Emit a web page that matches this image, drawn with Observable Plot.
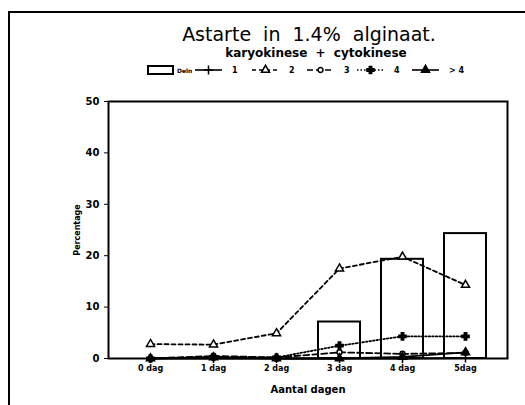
<!DOCTYPE html>
<html><head><meta charset="utf-8">
<script src="https://cdn.jsdelivr.net/npm/d3@7"></script>
<script src="https://cdn.jsdelivr.net/npm/@observablehq/plot@0.6"></script>
<style>
body{margin:0;background:#fff;width:525px;height:405px;overflow:hidden;position:relative;font-family:"DejaVu Sans",sans-serif;}
#frame{position:absolute;left:8px;top:11px;width:560px;height:440px;border:2px solid #000;box-sizing:border-box;z-index:5;pointer-events:none;}
#title{position:absolute;left:0;width:618px;top:23px;text-align:center;font-size:19px;word-spacing:6px;}
#sub{position:absolute;left:0;width:632px;top:46px;text-align:center;font-size:12px;font-weight:bold;word-spacing:4px;}
#legend{position:absolute;left:0;top:62px;}
#chart{position:absolute;left:0;top:80px;}
</style></head><body>
<div id="frame"></div>
<div id="title">Astarte in 1.4% alginaat.</div>
<div id="sub">karyokinese + cytokinese</div>
<div id="legend"></div>
<div id="chart"></div>
<script>
const days = ["0 dag","1 dag","2 dag","3 dag","4 dag","5dag"];
const deln = [0, 0, 0, 7.1, 19.3, 24.3];
const s1 = [0, 0, 0, 0, 0, 0.1];
const s2 = [2.8, 2.7, 4.9, 17.5, 19.8, 14.3];
const s3 = [0, 0.5, 0.2, 1.2, 0.9, 1.1];
const s4 = [0, 0.3, 0.2, 2.5, 4.3, 4.3];
const s5 = [0, 0.2, 0, 0, 0.3, 1.2];
const seriesNames = ["1","2","3","4","> 4"];
const yTicks = [0,10,20,30,40,50];

const styles = [
  {dash:null, symbol:"plus", fill:"none", r:3},
  {dash:"4,3", symbol:"triangle", fill:"white", r:3},
  {dash:"6,3", symbol:"circle", fill:"white", r:2.5},
  {dash:"1.5,2", symbol:"cross", fill:"black", r:3},
  {dash:null, symbol:"triangle", fill:"black", r:3}
];
const seriesVals = [s1,s2,s3,s4,s5];
const barData = days.map((d,i)=>({day:d, v:deln[i]}));

const marks = [
  Plot.barY(barData, {x:"day", y:"v", fill:"white", stroke:"black", strokeWidth:2})
];
seriesVals.forEach((vals, k) => {
  const data = days.map((d,i)=>({day:d, v:vals[i]}));
  const st = styles[k];
  marks.push(Plot.line(data, {x:"day", y:"v", stroke:"black", strokeWidth:1.8, strokeDasharray:st.dash}));
  marks.push(Plot.dot(data, {x:"day", y:"v", symbol:()=>st.symbol, r:st.r, stroke:"black", strokeWidth:1.5, fill:st.fill}));
});
marks.push(Plot.frame({stroke:"black", strokeWidth:2}));

const chart = Plot.plot({
  width:525, height:325,
  marginLeft:108, marginRight:18, marginTop:21, marginBottom:47,
  style:{fontFamily:"DejaVu Sans, sans-serif", background:"none", color:"black"},
  x:{type:"band", domain:days, paddingInner:0.34, paddingOuter:0.305},
  y:{domain:[0,50]},
  symbol:{type:"identity"},
  marks: [
    ...marks,
    Plot.axisX({tickSize:0, tickPadding:7, fontSize:8, fontWeight:"bold", label:null}),
    Plot.axisX({tickSize:0, tickFormat:()=>"", label:"Aantal dagen", labelAnchor:"center", labelOffset:34, fontSize:10, fontWeight:"bold"}),
    Plot.axisY({ticks:yTicks, tickSize:4, tickPadding:5, fontSize:10, fontWeight:"bold", label:null}),
    Plot.axisY({ticks:yTicks, tickSize:0, tickFormat:()=>"", label:"Percentage", labelAnchor:"center", labelArrow:"none", labelOffset:34, fontSize:8, fontWeight:"bold"})
  ]
});
document.getElementById("chart").appendChild(chart);

// legend
const lg = d3.select("#legend").append("svg").attr("width",525).attr("height",18);
lg.append("rect").attr("x",148).attr("y",4).attr("width",25).attr("height",8).attr("fill","white").attr("stroke","black").attr("stroke-width",2);
lg.append("text").attr("x",177).attr("y",10.5).attr("font-size",6).attr("font-weight","bold").text("Deln");
const legX = [195, 252, 307, 357, 412];
const symGen = {plus:d3.symbolPlus, triangle:d3.symbolTriangle, circle:d3.symbolCircle, cross:d3.symbolCross};
seriesNames.forEach((n,k)=>{
  const st = styles[k], x0 = legX[k];
  lg.append("line").attr("x1",x0).attr("x2",x0+27).attr("y1",8).attr("y2",8).attr("stroke","black").attr("stroke-width",1.6).attr("stroke-dasharray",st.dash);
  const sz = st.symbol==="circle" ? 20 : 28;
  lg.append("path").attr("d", d3.symbol(symGen[st.symbol], sz)()).attr("transform",`translate(${x0+13.5},8)`)
    .attr("fill", st.fill==="none"?"none":st.fill).attr("stroke","black").attr("stroke-width",1.5);
  lg.append("text").attr("x",x0+37).attr("y",11).attr("font-size",8).attr("font-weight","bold").text(n);
});
</script>
</body></html>
